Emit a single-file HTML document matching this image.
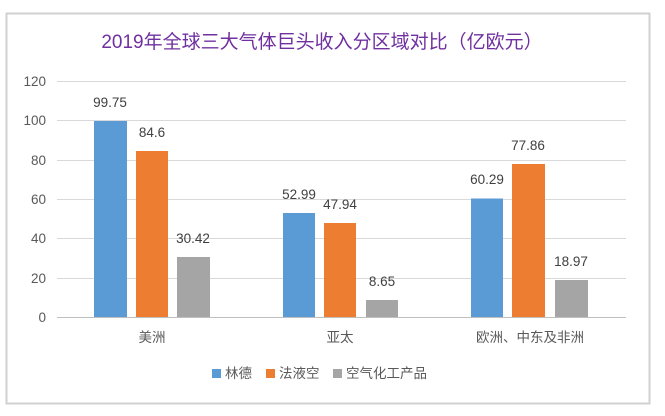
<!DOCTYPE html>
<html><head><meta charset="utf-8"><style>
body{margin:0;background:#fff;}
svg text{font-family:"Liberation Sans","Noto Sans CJK SC",sans-serif;}
</style></head><body>
<svg width="665" height="411" xmlns="http://www.w3.org/2000/svg">
<rect x="0" y="0" width="665" height="411" fill="#fff"/>
<rect x="6.5" y="13.5" width="643" height="390" fill="#fff" stroke="#d0d0d0" stroke-width="2"/>
<text x="322" y="48" font-size="19" fill="#7030a0" text-anchor="middle">2019年全球三大气体巨头收入分区域对比（亿欧元）</text>
<g stroke="#d9d9d9" stroke-width="1">
<line x1="57" x2="626" y1="81.5" y2="81.5"/>
<line x1="57" x2="626" y1="120.5" y2="120.5"/>
<line x1="57" x2="626" y1="160.5" y2="160.5"/>
<line x1="57" x2="626" y1="199.5" y2="199.5"/>
<line x1="57" x2="626" y1="238.5" y2="238.5"/>
<line x1="57" x2="626" y1="278.5" y2="278.5"/>
</g>
<line x1="57" x2="626" y1="317.5" y2="317.5" stroke="#bfbfbf"/>
<g font-size="13.5" fill="#595959" text-anchor="end">
<text x="46" y="86">120</text><text x="46" y="125">100</text><text x="46" y="165">80</text>
<text x="46" y="204">60</text><text x="46" y="243">40</text><text x="46" y="283">20</text><text x="46" y="322">0</text>
</g>
<g>
<rect x="94" y="121" width="33" height="196" fill="#5b9bd5"/>
<rect x="136" y="151" width="32" height="166" fill="#ed7d31"/>
<rect x="177" y="257" width="33" height="60" fill="#a5a5a5"/>
<rect x="283" y="213" width="32" height="104" fill="#5b9bd5"/>
<rect x="324" y="223" width="32" height="94" fill="#ed7d31"/>
<rect x="366" y="300" width="32" height="17" fill="#a5a5a5"/>
<rect x="471" y="198.5" width="32" height="118.5" fill="#5b9bd5"/>
<rect x="512" y="164" width="33" height="153" fill="#ed7d31"/>
<rect x="555" y="280" width="33" height="37" fill="#a5a5a5"/>
</g>
<g font-size="13.5" fill="#404040" text-anchor="middle">
<text x="110" y="107">99.75</text><text x="152" y="137">84.6</text><text x="193" y="243">30.42</text>
<text x="299" y="199">52.99</text><text x="340" y="209">47.94</text><text x="382" y="286">8.65</text>
<text x="487" y="184">60.29</text><text x="528" y="150">77.86</text><text x="571" y="266">18.97</text>
</g>
<g font-size="13.5" fill="#595959" text-anchor="middle">
<text x="152" y="342">美洲</text><text x="340" y="342">亚太</text><text x="530" y="342">欧洲、中东及非洲</text>
</g>
<g font-size="13.5" fill="#595959">
<rect x="212" y="369" width="9" height="9" fill="#5b9bd5"/><text x="225" y="378">林德</text>
<rect x="266" y="369" width="9" height="9" fill="#ed7d31"/><text x="279" y="378">法液空</text>
<rect x="333" y="369" width="9" height="9" fill="#a5a5a5"/><text x="346" y="378">空气化工产品</text>
</g>
</svg>
</body></html>
